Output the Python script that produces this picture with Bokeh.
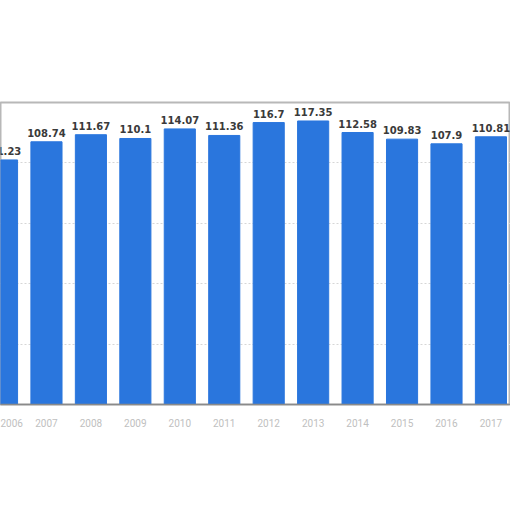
from bokeh.plotting import figure
from bokeh.models import Range1d, FixedTicker, ColumnDataSource
from bokeh.core.properties import value
from bokeh.embed import file_html
from bokeh.resources import INLINE

years = ["2006", "2007", "2008", "2009", "2010", "2011", "2012", "2013", "2014", "2015", "2016", "2017"]
values = [101.23, 108.74, 111.67, 110.1, 114.07, 111.36, 116.7, 117.35, 112.58, 109.83, 107.9, 110.81]
labels = ["101.23", "108.74", "111.67", "110.1", "114.07", "111.36", "116.7", "117.35", "112.58", "109.83", "107.9", "110.81"]

idx = list(range(len(years)))
src = ColumnDataSource(dict(x=idx, top=values, label=labels))

# frame spans x 0..510, y 102..404 in the screenshot
p = figure(width=510, height=440, output_backend="svg", toolbar_location=None,
           x_range=Range1d(-0.034, 11.44), y_range=Range1d(0, 125),
           min_border_left=0, min_border_right=0, min_border_top=102, min_border_bottom=36)
p.background_fill_color = "white"
p.border_fill_color = "white"
p.outline_line_color = "#b8b8b8"
p.outline_line_width = 2

p.yaxis.visible = False
p.ygrid.ticker = FixedTicker(ticks=[25, 50, 75, 100])
p.ygrid.grid_line_color = "#d6d6d6"
p.ygrid.grid_line_dash = "2 2"
p.xgrid.visible = False

p.vbar(x="x", top="top", width=0.7, source=src, color="#2a76dd")
p.text(x="x", y="top", text="label", source=src, text_align="center", text_baseline="bottom",
       y_offset=-5, text_font=value("DejaVu Sans"), text_font_style="bold", text_font_size="10px",
       text_color="#3a3a3a")

ax = p.xaxis[0]
ax.ticker = FixedTicker(ticks=idx)
ax.major_label_overrides = {i: y for i, y in zip(idx, years)}
ax.axis_line_color = "#8a8a8a"
ax.axis_line_width = 1.5
ax.major_tick_line_color = None
ax.minor_tick_line_color = None
ax.major_label_standoff = 8
ax.major_label_text_color = "#c0c0c0"
ax.major_label_text_font = "Roboto"
ax.major_label_text_font_size = "10px"

open("out.html", "w").write(file_html(p, INLINE))
